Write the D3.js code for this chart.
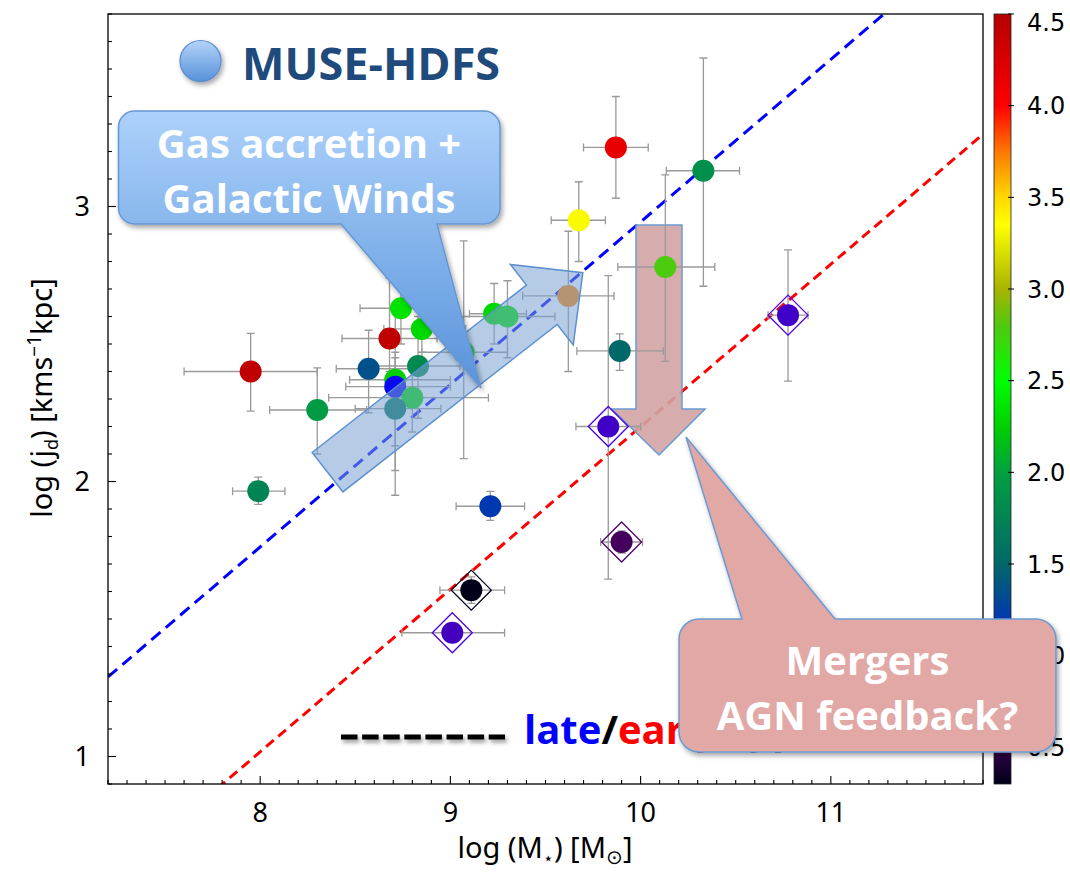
<!DOCTYPE html>
<html>
<head>
<meta charset="utf-8">
<script src="https://cdn.jsdelivr.net/npm/d3@7"></script>
<style>
  body { margin: 0; background: #fff; }
</style>
</head>
<body>
<svg id="chart" width="1070" height="872" font-family="Noto Sans, sans-serif"></svg>
<script>
// ---- data ----
const logMass = [7.95, 8.30, 8.57, 8.68, 8.74, 8.85, 8.83, 8.71, 8.71, 8.80, 8.71, 9.07, 9.23, 9.30, 9.62, 9.675, 9.87, 10.33, 10.13, 9.89, 10.775, 9.83, 9.90, 9.21, 7.99, 9.11, 9.01];
const logJ    = [2.40, 2.26, 2.41, 2.52, 2.63, 2.555, 2.42, 2.37, 2.345, 2.305, 2.265, 2.47, 2.61, 2.60, 2.675, 2.95, 3.215, 3.13, 2.78, 2.475, 2.605, 2.20, 1.78, 1.91, 1.965, 1.605, 1.45];
const zValue  = [4.42, 1.95, 1.35, 4.42, 2.35, 2.3, 1.8, 2.25, 1.07, 2.3, 1.6, 2.3, 2.3, 2.35, 3.72, 3.33, 4.15, 1.85, 2.78, 1.5, 0.9, 0.9, 0.55, 1.2, 1.75, 0.3, 0.87];
const massLo  = [7.60, 8.05, 8.40, 8.43, 8.525, 8.65, 8.60, 8.47, 8.45, 8.36, 8.50, 8.85, 9.10, 9.05, 9.38, 9.53, 9.70, 10.135, 9.88, 9.665, 10.67, 9.66, 9.79, 9.03, 7.855, 8.945, 8.745];
const massHi  = [8.30, 8.56, 8.86, 8.93, 8.95, 9.08, 9.05, 9.00, 9.00, 9.20, 8.95, 9.30, 9.40, 9.55, 9.86, 9.815, 10.04, 10.52, 10.39, 10.12, 10.88, 10.00, 10.01, 9.39, 8.13, 9.285, 9.285];
const jLo     = [2.256, 2.10, 2.25, 2.40, 2.50, 2.47, 2.23, 2.04, 2.13, 2.18, 1.95, 2.083, 2.50, 2.45, 2.40, 2.80, 3.03, 2.71, 2.437, 2.404, 2.365, 1.645, 1.74, 1.859, 1.917, 1.557, 1.42];
const jHi     = [2.539, 2.413, 2.55, 2.74, 2.76, 2.64, 2.60, 2.47, 2.62, 2.42, 2.45, 2.875, 2.72, 2.73, 2.91, 3.09, 3.40, 3.54, 3.115, 2.537, 2.842, 2.749, 1.82, 1.964, 2.016, 1.653, 1.48];
const merger  = [0, 0, 0, 0, 0, 0, 0, 0, 0, 0, 0, 0, 0, 0, 0, 0, 0, 0, 0, 0, 1, 1, 1, 0, 0, 1, 1];

// late / early type relations  log j = a + b log M
const fitNames = ["late", "early"];
const fitSlope = [0.591, 0.591];
const fitIntercept = [-2.966, -3.711];

const xTicks = [8, 9, 10, 11];
const yTicks = [1, 2, 3];
const cbarTicks = [0.5, 1.0, 1.5, 2.0, 2.5, 3.0, 3.5, 4.0, 4.5];

// colour map of the bar
const cmapValues = [0.3, 0.55, 0.8, 0.95, 1.07, 1.2, 1.5, 1.8, 2.0, 2.25, 2.5, 2.8, 3.0, 3.35, 3.5, 3.75, 4.0, 4.5];
const cmapColors = ["#000018", "#44005c", "#4a00a8", "#3c00d8", "#0a0af0", "#0038b0", "#006868", "#008a50", "#00a040",
                    "#00d000", "#00ff00", "#50c810", "#a8b400", "#ffff00", "#ffd800", "#ff7800", "#ff0000", "#b40000"];

// ---- layout ----
const W = 1070, H = 872;
const plot = { left: 108, right: 983, top: 14, bottom: 784 };
const cbar = { x: 994, w: 17 };
const boldFont = "Open Sans";

const svg = d3.select("#chart");
svg.append("rect").attr("width", W).attr("height", H).attr("fill", "#fff");

const x = d3.scaleLinear().domain([7.2, 11.8]).range([plot.left, plot.right]);
const y = d3.scaleLinear().domain([0.9, 3.7]).range([plot.bottom, plot.top]);
const zy = d3.scaleLinear().domain([0.3, 4.5]).range([plot.bottom, plot.top]);
const color = d3.scaleLinear().domain(cmapValues).range(cmapColors).interpolate(d3.interpolateRgb).clamp(true);

const defs = svg.append("defs");
defs.append("clipPath").attr("id", "clip")
  .append("rect").attr("x", plot.left).attr("y", plot.top)
  .attr("width", plot.right - plot.left).attr("height", plot.bottom - plot.top);

let shadow = defs.append("filter").attr("id", "shadow").attr("x", "-20%").attr("y", "-20%").attr("width", "140%").attr("height", "150%");
shadow.append("feDropShadow").attr("dx", 2).attr("dy", 3).attr("stdDeviation", 2.5)
  .attr("flood-color", "#000").attr("flood-opacity", 0.35);

// a line has a flat box, so its shadow needs a user-space region
let lineShadow = defs.append("filter").attr("id", "lineShadow").attr("filterUnits", "userSpaceOnUse")
  .attr("x", 320).attr("y", 715).attr("width", 210).attr("height", 45);
lineShadow.append("feDropShadow").attr("dx", 2).attr("dy", 3).attr("stdDeviation", 2.2)
  .attr("flood-color", "#000").attr("flood-opacity", 0.4);

let blueGrad = defs.append("linearGradient").attr("id", "blueGrad")
  .attr("gradientUnits", "userSpaceOnUse").attr("x1", 0).attr("x2", 0).attr("y1", 111).attr("y2", 388);
blueGrad.append("stop").attr("offset", 0).attr("stop-color", "#add1fb");
blueGrad.append("stop").attr("offset", 0.41).attr("stop-color", "#88b7ed");
blueGrad.append("stop").attr("offset", 1).attr("stop-color", "#5a93db");

let dotGrad = defs.append("linearGradient").attr("id", "dotGrad").attr("x1", 0).attr("x2", 0).attr("y1", 0).attr("y2", 1);
dotGrad.append("stop").attr("offset", 0).attr("stop-color", "#b3d4f8");
dotGrad.append("stop").attr("offset", 1).attr("stop-color", "#5791da");

let cmapGrad = defs.append("linearGradient").attr("id", "cmap").attr("x1", 0).attr("x2", 0).attr("y1", 1).attr("y2", 0);
cmapValues.forEach((v, i) => {
  cmapGrad.append("stop").attr("offset", (v - 0.3) / 4.2).attr("stop-color", cmapColors[i]);
});

// ---- fit lines ----
const gLines = svg.append("g").attr("clip-path", "url(#clip)");
fitNames.forEach((name, i) => {
  let xs = x.domain();
  gLines.append("line")
    .attr("x1", x(xs[0])).attr("y1", y(fitIntercept[i] + fitSlope[i] * xs[0]))
    .attr("x2", x(xs[1])).attr("y2", y(fitIntercept[i] + fitSlope[i] * xs[1]))
    .attr("stroke", name === "late" ? "#0000ff" : "#ff0000")
    .attr("stroke-width", 3)
    .attr("stroke-dasharray", name === "late" ? "12,7" : "10,6");
});

// pink arrow pointing down (sits under the points)
svg.append("path")
  .attr("d", "M636,225H682V409H705L659,455L612,409H636Z")
  .attr("fill", "#d2a3a3").attr("fill-opacity", 0.9)
  .attr("stroke", "#6a9ad2").attr("stroke-width", 1.5);

// ---- error bars ----
const gErr = svg.append("g").attr("stroke", "#9a9a9a").attr("stroke-width", 1.3).attr("fill", "none");
const cap = 4;
logMass.forEach((m, i) => {
  let cx = x(m), cy = y(logJ[i]);
  let xl = x(massLo[i]), xh = x(massHi[i]), yl = y(jLo[i]), yh = y(jHi[i]);
  gErr.append("path").attr("d",
    `M${xl},${cy}H${xh}M${xl},${cy - cap}V${cy + cap}M${xh},${cy - cap}V${cy + cap}` +
    `M${cx},${yl}V${yh}M${cx - cap},${yl}H${cx + cap}M${cx - cap},${yh}H${cx + cap}`);
});

// ---- points ----
const gPts = svg.append("g");
logMass.forEach((m, i) => {
  let cx = x(m), cy = y(logJ[i]);
  if (merger[i]) {
    const d = 20;
    gPts.append("path")
      .attr("d", `M${cx},${cy - d}L${cx + d},${cy}L${cx},${cy + d}L${cx - d},${cy}Z`)
      .attr("fill", "none").attr("stroke", d3.color(color(zValue[i])).brighter(0.4)).attr("stroke-width", 1.3);
  }
  gPts.append("circle").attr("cx", cx).attr("cy", cy).attr("r", 11).attr("fill", color(zValue[i]));
});

// ---- frame + axes ----
svg.append("rect").attr("x", plot.left).attr("y", plot.top)
  .attr("width", plot.right - plot.left).attr("height", plot.bottom - plot.top)
  .attr("fill", "none").attr("stroke", "#000").attr("stroke-width", 1.3);

const xMinor = d3.range(72, 119).map(d => d / 10).filter(d => !xTicks.includes(d));
const yMinor = d3.range(9, 38).map(d => d / 10).filter(d => !yTicks.includes(d));
const gAx = svg.append("g").attr("stroke", "#000").attr("stroke-width", 1.1);
xMinor.forEach(v => gAx.append("line").attr("x1", x(v)).attr("x2", x(v)).attr("y1", plot.bottom).attr("y2", plot.bottom - 4));
xTicks.forEach(v => gAx.append("line").attr("x1", x(v)).attr("x2", x(v)).attr("y1", plot.bottom).attr("y2", plot.bottom - 8));
yMinor.forEach(v => gAx.append("line").attr("y1", y(v)).attr("y2", y(v)).attr("x1", plot.left).attr("x2", plot.left + 4));
yTicks.forEach(v => gAx.append("line").attr("y1", y(v)).attr("y2", y(v)).attr("x1", plot.left).attr("x2", plot.left + 8));

svg.append("g").selectAll("text").data(xTicks).enter().append("text")
  .attr("x", d => x(d)).attr("y", 822).attr("text-anchor", "middle")
  .attr("font-size", 27).text(d => d);
svg.append("g").selectAll("text").data(yTicks).enter().append("text")
  .attr("x", 90).attr("y", d => y(d)).attr("dy", "0.36em").attr("text-anchor", "end")
  .attr("font-size", 27).text(d => d);

// axis titles
let xt = svg.append("text").attr("x", 545).attr("y", 858).attr("text-anchor", "middle").attr("font-size", 29);
xt.append("tspan").text("log (M");
xt.append("tspan").attr("dy", 6).attr("font-size", 17).text("⋆");
xt.append("tspan").attr("dy", -6).text(") [M");
xt.append("tspan").attr("dy", 6).attr("font-size", 20).text("⊙");
xt.append("tspan").attr("dy", -6).text("]");

let yt = svg.append("text").attr("transform", "translate(52,398) rotate(-90)")
  .attr("text-anchor", "middle").attr("font-size", 29);
yt.append("tspan").text("log (j");
yt.append("tspan").attr("dy", 6).attr("font-size", 18).text("d");
yt.append("tspan").attr("dy", -6).text(") [kms");
yt.append("tspan").attr("dy", -11).attr("font-size", 19).text("−1");
yt.append("tspan").attr("dy", 11).text("kpc]");

// ---- colour bar ----
svg.append("rect").attr("x", cbar.x).attr("y", zy(4.5)).attr("width", cbar.w)
  .attr("height", zy(0.3) - zy(4.5)).attr("fill", "url(#cmap)").attr("stroke", "#222").attr("stroke-width", 0.8);
cbarTicks.forEach(v => {
  svg.append("line").attr("x1", cbar.x + cbar.w - 3).attr("x2", cbar.x + cbar.w + 3)
    .attr("y1", zy(v)).attr("y2", zy(v)).attr("stroke", "#000").attr("stroke-width", 1);
  svg.append("text").attr("x", 1027).attr("y", Math.max(zy(v), 22)).attr("dy", "0.36em")
    .attr("font-family", "DejaVu Sans").attr("font-size", 24).text(v.toFixed(1));
});

// ---- annotations ----
// blue arrow (semi-transparent, over the points)
const L = 324, bw = 25, hw = 51, hl = 52;
svg.append("path")
  .attr("d", `M0,${-bw}L${L - hl},${-bw}L${L - hl},${-hw}L${L},0L${L - hl},${hw}L${L - hl},${bw}L0,${bw}Z`)
  .attr("transform", "translate(327.5,472.2) rotate(-38)")
  .attr("fill", "rgb(120,160,210)").attr("fill-opacity", 0.55)
  .attr("stroke", "#5b8fd0").attr("stroke-width", 1.5);

// callout: gas accretion
(function () {
  const x0 = 118.5, x1 = 500, y0 = 111, y1 = 224, r = 16;
  svg.append("path")
    .attr("d", `M${x0 + r},${y0}H${x1 - r}A${r},${r} 0 0 1 ${x1},${y0 + r}V${y1 - r}A${r},${r} 0 0 1 ${x1 - r},${y1}` +
      `H437L481,388L341,${y1}H${x0 + r}A${r},${r} 0 0 1 ${x0},${y1 - r}V${y0 + r}A${r},${r} 0 0 1 ${x0 + r},${y0}Z`)
    .attr("fill", "url(#blueGrad)").attr("stroke", "#6697d4").attr("stroke-width", 1.5)
    .attr("filter", "url(#shadow)");
  ["Gas accretion +", "Galactic Winds"].forEach((t, k) => {
    svg.append("text").attr("x", 309).attr("y", 158 + k * 55).attr("text-anchor", "middle")
      .attr("font-family", boldFont).attr("font-weight", 700).attr("font-size", 40).attr("fill", "#fff")
      .text(t);
  });
})();

// legend marker
svg.append("circle").attr("cx", 200.5).attr("cy", 61).attr("r", 20.5)
  .attr("fill", "url(#dotGrad)").attr("stroke", "#5a8ccc").attr("stroke-width", 1.2).attr("filter", "url(#shadow)");
svg.append("text").attr("x", 242).attr("y", 80)
  .attr("font-family", boldFont).attr("font-weight", 700).attr("font-size", 45).attr("fill", "#1f4a7c")
  .text("MUSE-HDFS");

// late/early-types key
svg.append("line").attr("x1", 341).attr("x2", 505).attr("y1", 737).attr("y2", 737)
  .attr("stroke", "#000").attr("stroke-width", 5).attr("stroke-dasharray", "16.5,4.6")
  .attr("filter", "url(#lineShadow)");
let key = svg.append("text").attr("x", 524).attr("y", 744)
  .attr("font-family", boldFont).attr("font-weight", 700).attr("font-size", 40);
key.append("tspan").attr("fill", "#0000ff").text("late");
key.append("tspan").attr("fill", "#000").text("/");
key.append("tspan").attr("fill", "#ff0000").text("early");
key.append("tspan").attr("fill", "#000").text("-types");

// callout: mergers (on top of everything)
(function () {
  const x0 = 679, x1 = 1056, y0 = 619, y1 = 752, r = 20;
  svg.append("path")
    .attr("d", `M${x0 + r},${y0}H742L686,437L835,${y0}H${x1 - r}A${r},${r} 0 0 1 ${x1},${y0 + r}V${y1 - r}` +
      `A${r},${r} 0 0 1 ${x1 - r},${y1}H${x0 + r}A${r},${r} 0 0 1 ${x0},${y1 - r}V${y0 + r}A${r},${r} 0 0 1 ${x0 + r},${y0}Z`)
    .attr("fill", "#e1a8a6").attr("stroke", "#6a9ad2").attr("stroke-width", 1.5)
    .attr("filter", "url(#shadow)");
  ["Mergers", "AGN feedback?"].forEach((t, k) => {
    svg.append("text").attr("x", 867.5).attr("y", 675 + k * 55).attr("text-anchor", "middle")
      .attr("font-family", boldFont).attr("font-weight", 700).attr("font-size", 40).attr("fill", "#fff")
      .text(t);
  });
})();
</script>
</body>
</html>
